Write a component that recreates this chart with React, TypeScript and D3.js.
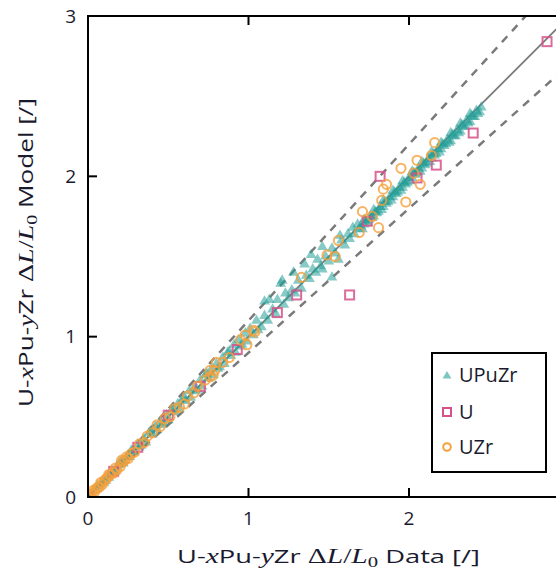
import React from "react";
import * as d3 from "d3";

const xTicks = [0, 1, 2, 3];
const xTickLabels = [0, 1, 2];
const yTicks = [0, 1, 2, 3];

const upuzr: [number, number][] = [
  [0.01,0.01],[0.03,0.02],[0.05,0.05],[0.06,0.07],[0.08,0.08],[0.1,0.09],[0.12,0.13],[0.13,0.12],[0.15,0.16],[0.17,0.16],
  [0.19,0.2],[0.2,0.22],[0.22,0.21],[0.24,0.25],[0.26,0.25],[0.27,0.29],[0.29,0.28],[0.31,0.33],[0.33,0.32],[0.35,0.36],
  [0.36,0.34],[0.38,0.4],[0.4,0.39],[0.42,0.44],[0.43,0.42],[0.45,0.47],[0.47,0.46],[0.49,0.51],[0.5,0.48],[0.52,0.54],
  [0.54,0.53],[0.56,0.58],[0.57,0.55],[0.59,0.61],[0.61,0.6],[0.63,0.66],[0.64,0.62],[0.66,0.68],[0.68,0.67],[0.7,0.73],
  [0.71,0.69],[0.73,0.76],[0.75,0.74],[0.77,0.8],[0.78,0.76],[0.8,0.83],[0.82,0.81],[0.84,0.87],[0.85,0.83],[0.87,0.9],
  [0.89,0.88],[0.91,0.95],[0.92,0.9],[0.94,0.98],[0.96,0.95],[0.98,1.02],[0.99,0.97],
  [0.11,0.1],[0.18,0.19],[0.25,0.26],[0.32,0.31],[0.39,0.41],[0.46,0.45],[0.53,0.55],[0.6,0.62],[0.67,0.66],[0.74,0.77],
  [0.81,0.8],[0.88,0.91],[0.95,0.94],
  [1.01,1.05],[1.03,1.01],[1.05,1.1],[1.06,1.04],[1.08,1.06],[1.1,1.22],[1.1,1.13],[1.12,1.1],[1.13,1.23],[1.15,1.17],
  [1.17,1.14],[1.18,1.23],[1.2,1.33],[1.21,1.35],[1.22,1.2],[1.23,1.27],[1.25,1.24],[1.27,1.29],[1.28,1.4],[1.29,1.27],
  [1.31,1.35],[1.33,1.3],[1.35,1.45],[1.36,1.38],[1.38,1.36],[1.39,1.51],[1.4,1.42],[1.42,1.4],[1.43,1.48],[1.45,1.44],
  [1.46,1.56],[1.46,1.42],[1.48,1.5],[1.5,1.47],[1.52,1.37],[1.52,1.55],[1.54,1.52],[1.56,1.48],[1.57,1.63],[1.58,1.6],
  [1.6,1.57],[1.62,1.64],[1.63,1.61],[1.65,1.68],[1.66,1.64],[1.68,1.7],[1.69,1.67],
  [1.7,1.69],[1.72,1.7],[1.73,1.72],[1.75,1.73],[1.76,1.75],[1.78,1.75],[1.79,1.78],[1.81,1.78],[1.82,1.81],[1.84,1.81],
  [1.85,1.84],[1.87,1.84],[1.88,1.87],[1.9,1.87],[1.91,1.9],[1.93,1.9],[1.94,1.93],[1.96,1.93],[1.97,1.96],[1.99,1.96],
  [2.0,1.99],[2.02,1.99],[2.03,2.02],[2.05,2.02],[2.06,2.05],[2.08,2.05],[2.09,2.08],[2.11,2.08],[2.12,2.11],[2.14,2.11],
  [2.15,2.14],[2.17,2.14],[2.18,2.17],[2.2,2.17],[2.21,2.2],[2.23,2.2],[2.24,2.23],[2.26,2.22],[2.27,2.26],[2.29,2.25],
  [2.3,2.29],[2.32,2.28],[2.33,2.32],[2.35,2.31],[2.36,2.35],[2.38,2.34],[2.39,2.38],[2.41,2.37],[2.42,2.41],[2.44,2.4],
  [2.45,2.43],
  [1.71,1.67],[1.74,1.71],[1.77,1.74],[1.8,1.77],[1.83,1.79],[1.86,1.83],[1.89,1.85],[1.92,1.89],[1.95,1.91],[1.98,1.95],
  [2.01,1.97],[2.04,2.01],[2.07,2.03],[2.1,2.07],[2.13,2.09],[2.16,2.13],[2.19,2.15],[2.22,2.19],[2.25,2.21],[2.28,2.25],
  [2.31,2.27],[2.34,2.31],[2.37,2.33],[2.4,2.37],[2.43,2.39],
  [1.72,1.73],[1.78,1.79],[1.84,1.85],[1.9,1.91],[1.96,1.97],[2.02,2.03],[2.08,2.09],[2.14,2.15],[2.2,2.21],[2.26,2.27],
  [2.32,2.33],[2.38,2.39],
];

const uData: [number, number][] = [
  [0.0,0.0],[0.16,0.16],[0.31,0.31],[0.5,0.51],[0.7,0.69],[0.93,0.92],[1.18,1.15],[1.3,1.26],[1.63,1.26],
  [1.74,1.72],[1.82,2.0],[2.05,1.99],[2.17,2.07],[2.4,2.27],[2.86,2.84],
];

const uzrData: [number, number][] = [
  [0.0,0.0],[0.01,0.01],[0.02,0.02],[0.03,0.04],[0.04,0.03],[0.05,0.05],[0.06,0.06],[0.07,0.06],[0.08,0.09],[0.09,0.08],
  [0.1,0.1],[0.11,0.11],[0.12,0.12],[0.13,0.14],[0.14,0.14],[0.16,0.15],[0.17,0.18],[0.18,0.17],[0.2,0.19],[0.21,0.23],
  [0.22,0.22],[0.23,0.23],[0.24,0.25],[0.25,0.24],[0.27,0.27],[0.29,0.28],[0.32,0.33],[0.35,0.34],[0.37,0.38],[0.4,0.4],
  [0.43,0.45],[0.45,0.44],[0.48,0.49],[0.51,0.5],[0.54,0.55],[0.57,0.56],[0.6,0.58],[0.62,0.63],[0.66,0.65],[0.68,0.69],
  [0.73,0.73],[0.76,0.75],[0.76,0.79],[0.78,0.76],[0.79,0.79],[0.8,0.84],[0.84,0.84],[0.88,0.87],[0.95,0.98],[0.98,1.01],
  [0.99,0.95],[1.03,1.04],[1.04,1.03],[1.33,1.37],[1.49,1.51],[1.54,1.5],[1.56,1.6],[1.69,1.65],[1.71,1.78],[1.77,1.75],
  [1.81,1.68],[1.83,1.85],[1.84,1.92],[1.86,1.95],[1.95,2.05],[1.98,1.84],[2.03,2.02],[2.05,2.1],[2.07,1.95],[2.14,2.13],
  [2.16,2.21],
];

const fitLine: [number, number][] = [[0, 0], [3, 3]];
const upperBand: [number, number][] = [[0, 0], [3, 3.3]];
const lowerBand: [number, number][] = [[0, 0], [3, 2.7]];

const legendItems = ["UPuZr", "U", "UZr"];

const TEAL = "#259e98";
const PINK = "#d6518a";
const ORANGE = "#f5a03c";
const TEXT = "#1a1a2e";
const SANS = "'Open Sans', 'Liberation Sans', sans-serif";
const SERIF = "'Liberation Serif', 'DejaVu Serif', serif";

export default function App() {
  const W = 556, H = 574;
  const x = d3.scaleLinear().domain([0, 3]).range([88, 569.5]);
  const y = d3.scaleLinear().domain([0, 3]).range([497, 16]);
  const line = d3.line<[number, number]>().x((d) => x(d[0])).y((d) => y(d[1]));
  const tri = d3.symbol().type(d3.symbolTriangle).size(50)() as string;
  const triLeg = d3.symbol().type(d3.symbolTriangle).size(34)() as string;
  const x0 = x(0), x3 = x(3), y0 = y(0), y3 = y(3);
  const tickLen = 9;

  const legendY = [375, 412, 447];

  return (
    <div style={{ position: "absolute", left: 0, top: 0 }}>
      <svg width={W} height={H} style={{ display: "block", background: "#fff" }}>
        <defs>
          <clipPath id="plot">
            <rect x={x0} y={y3} width={x3 - x0} height={y0 - y3} />
          </clipPath>
        </defs>
        <g clipPath="url(#plot)">
          <path d={line(upperBand) as string} stroke="#7a7a7a" strokeWidth={2.5} strokeDasharray="8,7" fill="none" />
          <path d={line(lowerBand) as string} stroke="#7a7a7a" strokeWidth={2.5} strokeDasharray="8,7" fill="none" />
          <path d={line(fitLine) as string} stroke="#7a7a7a" strokeWidth={1.8} fill="none" />
          {upuzr.map((d, i) => (
            <path key={"t" + i} d={tri} transform={`translate(${x(d[0])},${y(d[1])})`} fill={TEAL} fillOpacity={0.55} />
          ))}
          {uData.map((d, i) => (
            <rect key={"s" + i} x={x(d[0]) - 4.5} y={y(d[1]) - 4.5} width={9} height={9} fill="none" stroke={PINK} strokeWidth={2} strokeOpacity={0.85} />
          ))}
          {uzrData.map((d, i) => (
            <circle key={"c" + i} cx={x(d[0])} cy={y(d[1])} r={4.6} fill="none" stroke={ORANGE} strokeWidth={2} strokeOpacity={0.8} />
          ))}
        </g>
        {/* frame */}
        <g stroke="#000" strokeWidth={2} fill="none">
          <line x1={x0} y1={y0} x2={x3} y2={y0} />
          <line x1={x0} y1={y3} x2={x3} y2={y3} />
          <line x1={x0} y1={y0 + 1} x2={x0} y2={y3 - 1} />
          <line x1={x3} y1={y0} x2={x3} y2={y3} />
          {xTicks.map((t) => (
            <g key={"xt" + t}>
              <line x1={x(t)} y1={y0} x2={x(t)} y2={y0 - tickLen} />
              <line x1={x(t)} y1={y3} x2={x(t)} y2={y3 + tickLen} />
            </g>
          ))}
          {yTicks.map((t) => (
            <g key={"yt" + t}>
              <line x1={x0} y1={y(t)} x2={x0 + tickLen} y2={y(t)} />
              <line x1={x3} y1={y(t)} x2={x3 - tickLen} y2={y(t)} />
            </g>
          ))}
        </g>
        {xTickLabels.map((t) => (
          <text key={"xl" + t} x={x(t)} y={525} textAnchor="middle" fontFamily={SANS} fontSize={19} fill={TEXT}>
            {t}
          </text>
        ))}
        {yTicks.map((t) => (
          <text key={"yl" + t} x={76} y={y(t)} dy="0.35em" textAnchor="end" fontFamily={SANS} fontSize={19} fill={TEXT}>
            {t}
          </text>
        ))}
        {/* x label */}
        <text x={177} y={563} fontFamily={SANS} fontSize={18.5} fill={TEXT} textLength={303} lengthAdjust="spacingAndGlyphs">
          <tspan>U-</tspan>
          <tspan fontFamily={SERIF} fontStyle="italic" fontSize={20}>x</tspan>
          <tspan>Pu-</tspan>
          <tspan fontFamily={SERIF} fontStyle="italic" fontSize={20}>y</tspan>
          <tspan>Zr </tspan>
          <tspan fontFamily={SERIF} fontSize={20}>Δ</tspan>
          <tspan fontFamily={SERIF} fontStyle="italic" fontSize={20}>L</tspan>
          <tspan fontFamily={SERIF} fontSize={20}>/</tspan>
          <tspan fontFamily={SERIF} fontStyle="italic" fontSize={20}>L</tspan>
          <tspan fontFamily={SERIF} fontSize={14} dy={4}>0</tspan>
          <tspan dy={-4}> Data [/]</tspan>
        </text>
        {/* y label */}
        <text transform="translate(33,407) rotate(-90)" x={0} y={0} fontFamily={SANS} fontSize={19.5} fill={TEXT} textLength={309} lengthAdjust="spacingAndGlyphs">
          <tspan>U-</tspan>
          <tspan fontFamily={SERIF} fontStyle="italic" fontSize={21}>x</tspan>
          <tspan>Pu-</tspan>
          <tspan fontFamily={SERIF} fontStyle="italic" fontSize={21}>y</tspan>
          <tspan>Zr </tspan>
          <tspan fontFamily={SERIF} fontSize={21}>Δ</tspan>
          <tspan fontFamily={SERIF} fontStyle="italic" fontSize={21}>L</tspan>
          <tspan fontFamily={SERIF} fontSize={21}>/</tspan>
          <tspan fontFamily={SERIF} fontStyle="italic" fontSize={21}>L</tspan>
          <tspan fontFamily={SERIF} fontSize={15} dy={4}>0</tspan>
          <tspan dy={-4}> Model [/]</tspan>
        </text>
        {/* legend */}
        <rect x={432} y={353} width={114} height={119} fill="#fff" stroke="#000" strokeWidth={2} />
        {legendItems.map((name, i) => (
          <g key={name}>
            {i === 0 && <path d={triLeg} transform={`translate(447,${legendY[i] + 1})`} fill="#7cc6c1" />}
            {i === 1 && <rect x={443} y={legendY[i] - 4} width={8} height={8} fill="none" stroke={PINK} strokeWidth={2} />}
            {i === 2 && <circle cx={447} cy={legendY[i]} r={3.8} fill="none" stroke={ORANGE} strokeWidth={2} />}
            <text x={459} y={legendY[i]} dy="0.36em" fontFamily={SANS} fontSize={20} fill={TEXT}>
              {name}
            </text>
          </g>
        ))}
      </svg>
    </div>
  );
}
